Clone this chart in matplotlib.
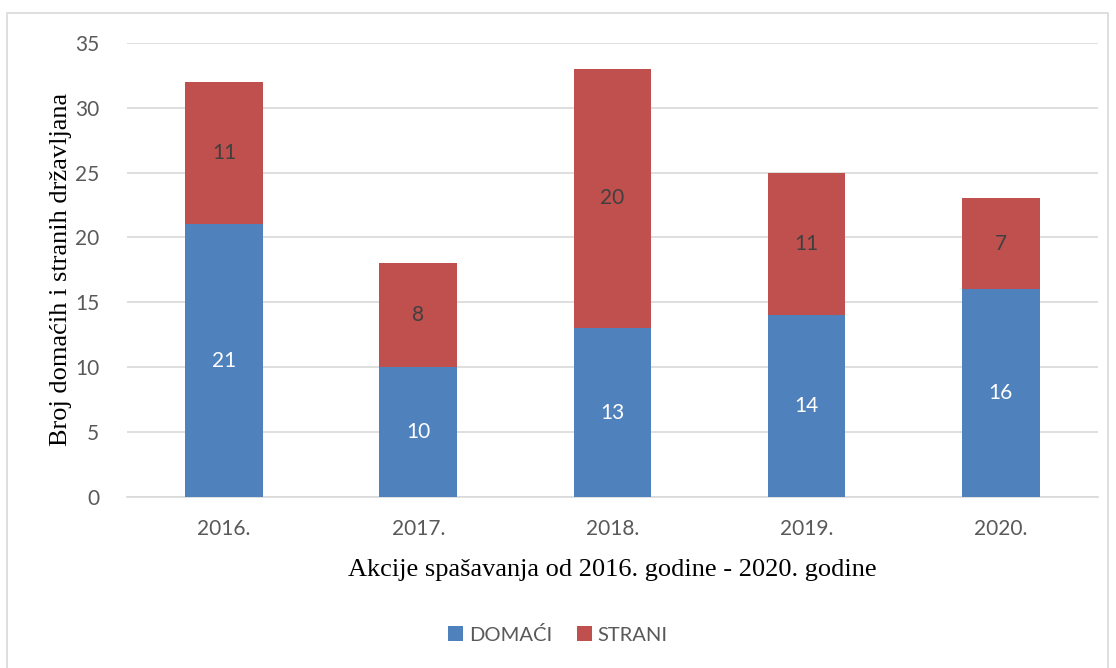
import matplotlib.pyplot as plt
from matplotlib.patches import Rectangle
import numpy as np

godine = ["2016.", "2017.", "2018.", "2019.", "2020."]
domaci = [21, 10, 13, 14, 16]
strani = [11, 8, 20, 11, 7]

plava = "#4F81BD"
crvena = "#C0504D"
siva = "#595959"

fig = plt.figure(figsize=(11.16, 6.68), dpi=100)
ax = fig.add_axes([0.1138, 0.256, 0.870, 0.680])

x = np.arange(len(godine))
b1 = ax.bar(x, domaci, width=0.4, color=plava, label="DOMAĆI", zorder=3)
b2 = ax.bar(x, strani, width=0.4, bottom=domaci, color=crvena, label="STRANI", zorder=3)

for i in range(len(godine)):
    ax.text(x[i], domaci[i] / 2, str(domaci[i]), ha="center", va="center",
            color="white", fontsize=15, family="Lato", zorder=4)
    ax.text(x[i], domaci[i] + strani[i] / 2, str(strani[i]), ha="center", va="center",
            color="#404040", fontsize=15, family="Lato", zorder=4)

ax.set_xlim(-0.5, 4.5)
ax.set_ylim(0, 35)
ax.set_yticks(range(0, 36, 5))
ax.set_xticks(x)
ax.set_xticklabels(godine)
ax.yaxis.grid(True, color="#D9D9D9", linewidth=1.2, zorder=0)
for s in ["top", "right", "left"]:
    ax.spines[s].set_visible(False)
ax.spines["bottom"].set_color("#D9D9D9")
ax.spines["bottom"].set_linewidth(1.2)
ax.tick_params(axis="both", length=0, labelsize=15, labelcolor=siva)
ax.tick_params(axis="x", pad=16)
ax.tick_params(axis="y", pad=20)
for t in ax.get_xticklabels() + ax.get_yticklabels():
    t.set_family("Lato")

ax.set_xlabel("Akcije spašavanja od 2016. godine - 2020. godine",
              family="Liberation Serif", fontsize=19, color="black", labelpad=14)
ax.set_ylabel("Broj domaćih i stranih državljana",
              family="Liberation Serif", fontsize=19, color="black", labelpad=2)

fig.legend(handles=[b1, b2], loc="center", bbox_to_anchor=(0.5, 0.05), ncol=2,
           frameon=False, prop={"family": "Lato", "size": 14.5}, labelcolor=siva,
           handlelength=0.75, handleheight=0.75, columnspacing=1.2, handletextpad=0.3)

fig.patches.append(Rectangle((7 / 1116, -0.01), 1101 / 1116, 1 - 13 / 668 + 0.01,
                             transform=fig.transFigure, fill=False,
                             edgecolor="#D9D9D9", linewidth=1.2))

fig.savefig("out.png", dpi=100)
